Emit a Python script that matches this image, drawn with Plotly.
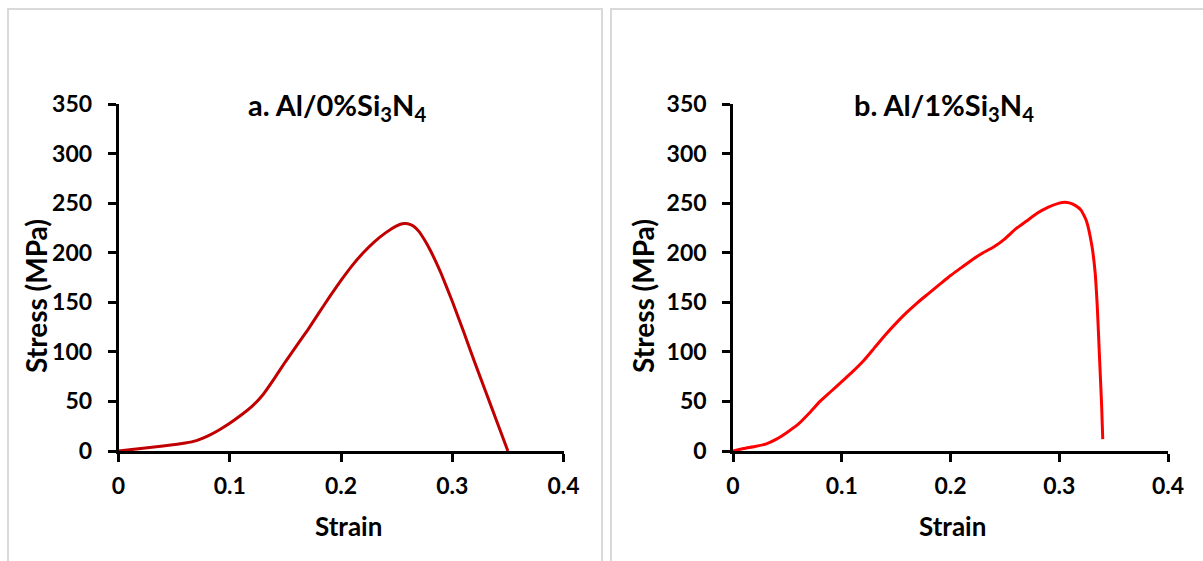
import plotly.graph_objects as go

# Tensile curves of the Al / Si3N4 composites
strain_a = [0, 0.02, 0.04, 0.06, 0.07, 0.08, 0.09, 0.10, 0.11, 0.12, 0.13, 0.14,
            0.15, 0.16, 0.17, 0.18, 0.19, 0.20, 0.21, 0.22, 0.23, 0.24, 0.25,
            0.255, 0.26, 0.265, 0.27, 0.275, 0.28, 0.285, 0.29, 0.30, 0.31, 0.32,
            0.33, 0.34, 0.35]
stress_a = [0, 2.5, 5, 8, 10.5, 15, 21, 28, 36, 45, 57, 73,
            90, 106, 122, 139, 156, 172, 187, 200, 211, 220, 227,
            229.2, 229.3, 227, 221.5, 213, 203, 191.5, 179, 151, 121, 90,
            60, 30, 0]

strain_b = [0, 0.01, 0.02, 0.03, 0.04, 0.05, 0.06, 0.07, 0.08, 0.09, 0.10,
            0.11, 0.12, 0.13, 0.14, 0.15, 0.16, 0.17, 0.18, 0.19, 0.20, 0.21,
            0.22, 0.23, 0.24, 0.25, 0.26, 0.27, 0.28, 0.29, 0.30, 0.305, 0.31,
            0.315, 0.32, 0.325, 0.33, 0.333, 0.335, 0.337, 0.339, 0.340]
stress_b = [0, 2.5, 4.5, 7, 12, 19, 27, 38, 50, 60, 70,
            80, 91, 104, 117, 129, 140, 150, 159, 168, 177, 185,
            193, 200, 206, 214, 224, 232, 240, 246, 250, 250.8, 250,
            247.5, 243, 232, 207, 180, 145, 95, 45, 12]

x_ticks = [0, 0.1, 0.2, 0.3, 0.4]
y_ticks = [0, 50, 100, 150, 200, 250, 300, 350]

titles = ["a. Al/0%Si<sub>3</sub>N<sub>4</sub>", "b. Al/1%Si<sub>3</sub>N<sub>4</sub>"]
x_label = "Strain"
y_label = "Stress (MPa)"

W, H = 1203, 561
FONT = "Lato"

def px_x(p):
    return p / W

def px_y(p):
    return (H - p) / H

fig = go.Figure()
fig.add_trace(go.Scatter(x=strain_a, y=stress_a, mode="lines",
                         line=dict(color="#C00000", width=3, shape="spline", smoothing=0.5),
                         xaxis="x", yaxis="y", showlegend=False))
fig.add_trace(go.Scatter(x=strain_b, y=stress_b, mode="lines",
                         line=dict(color="#FF0000", width=3, shape="spline", smoothing=0.5),
                         xaxis="x2", yaxis="y2", showlegend=False))

x_domains = [[px_x(118.5), px_x(563.5)], [px_x(733), px_x(1168)]]
y_domain = [px_y(451), px_y(104)]

tick_font = dict(family=FONT, size=23, color="black", weight="bold")
common_x = dict(range=[0, 0.4], tickvals=x_ticks, showline=True, linecolor="black",
                linewidth=2.5, ticks="outside", ticklen=8, tickwidth=2.5,
                tickcolor="black", showgrid=False, zeroline=False, automargin=False,
                tickfont=tick_font, ticklabelstandoff=5, fixedrange=True)
common_y = dict(range=[0, 350], tickvals=y_ticks, showline=True, linecolor="black",
                linewidth=2.5, ticks="outside", ticklen=8, tickwidth=2.5,
                tickcolor="black", showgrid=False, zeroline=False, automargin=False,
                tickfont=tick_font, ticklabelstandoff=11, domain=y_domain,
                fixedrange=True)

fig.update_layout(
    width=W, height=H, margin=dict(l=0, r=0, t=0, b=0, autoexpand=False),
    paper_bgcolor="white", plot_bgcolor="white",
    xaxis=dict(domain=x_domains[0], anchor="y", **common_x),
    yaxis=dict(anchor="x", **common_y),
    xaxis2=dict(domain=x_domains[1], anchor="y2", **common_x),
    yaxis2=dict(anchor="x2", **common_y),
)

# panel frames
for x0, x1 in [(8, 602), (611, 1215)]:
    fig.add_shape(type="rect", xref="paper", yref="paper",
                  x0=px_x(x0), x1=px_x(x1), y0=px_y(575), y1=px_y(9),
                  line=dict(color="#D9D9D9", width=2), fillcolor="rgba(0,0,0,0)",
                  layer="below")

title_font = dict(family=FONT, size=29, color="black", weight="bold")
xlab_font = dict(family=FONT, size=26, color="black", weight="bold")
ylab_font = dict(family=FONT, size=28, color="black", weight="bold")
title_x = [336.5, 944]
xlab_x = [348, 952]
ylab_x = [36, 643]
for i in range(2):
    fig.add_annotation(text=titles[i], xref="paper", yref="paper", x=px_x(title_x[i]),
                       y=px_y(106), xanchor="center", yanchor="middle", showarrow=False,
                       font=title_font)
    fig.add_annotation(text=x_label, xref="paper", yref="paper", x=px_x(xlab_x[i]),
                       y=px_y(526), xanchor="center", yanchor="middle", showarrow=False,
                       font=xlab_font)
    fig.add_annotation(text=y_label, xref="paper", yref="paper", x=px_x(ylab_x[i]),
                       y=px_y(296), textangle=-90, xanchor="center", yanchor="middle",
                       showarrow=False, font=ylab_font)

fig.write_html("out.html")
